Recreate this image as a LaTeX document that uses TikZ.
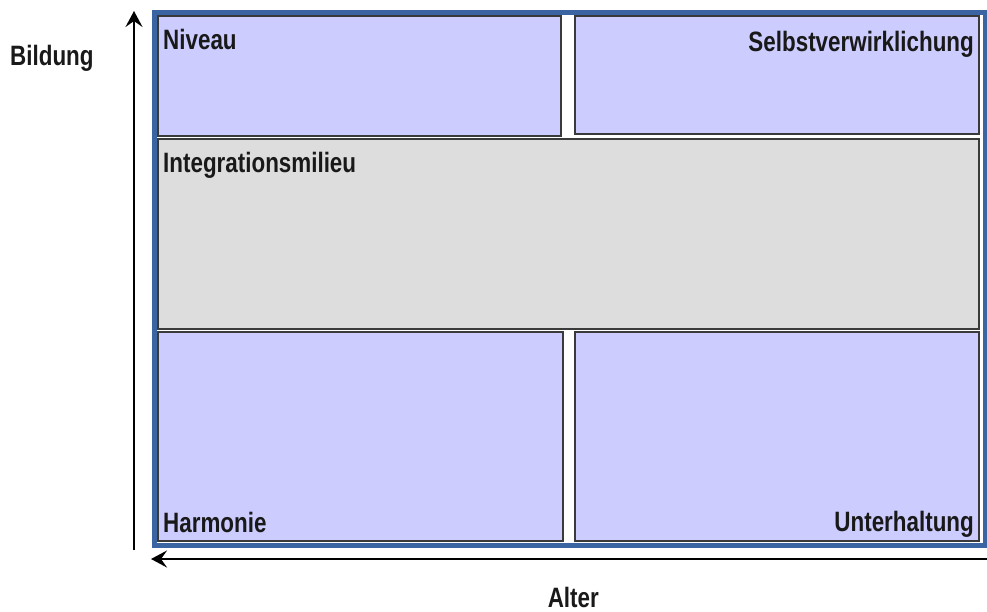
\documentclass[tikz,border=0pt]{standalone}
\usepackage{fontspec}
\setmainfont{Liberation Sans}[FakeStretch=0.80]
\usetikzlibrary{arrows.meta}
\definecolor{framblue}{HTML}{3A65A2}
\definecolor{cellblue}{HTML}{CCCCFF}
\definecolor{cellgrey}{HTML}{DDDDDD}
\definecolor{celledge}{HTML}{3A3A3A}
\begin{document}
\begin{tikzpicture}[x=1pt,y=-1pt,
  cell/.style={draw=celledge,line width=1.5pt},
  lbl/.style={inner sep=0pt,font=\fontsize{28}{30}\selectfont\bfseries,text=black!90},
  axis/.style={line width=2pt,-{Stealth[length=16pt,width=17pt,inset=6pt]}}]
\useasboundingbox[fill=white] (0,0) rectangle (987,611);
% outer frame
\draw[framblue,line width=5pt] (154.5,12.5) rectangle (985.5,545);
% cells
\draw[cell,fill=cellblue] (158,16) rectangle (561,136);
\draw[cell,fill=cellblue] (575,16) rectangle (979,134);
\draw[cell,fill=cellgrey] (158,139) rectangle (979,329);
\draw[cell,fill=cellblue] (158,332) rectangle (563,541);
\draw[cell,fill=cellblue] (575,332) rectangle (979,541);
% labels
\node[lbl,anchor=base west] (niveau) at (163,49) {Niveau};
\node[lbl,anchor=base east] (selbst) at (974,51) {Selbstverwirklichung};
\node[lbl,anchor=base west] (integ) at (163,172) {Integrationsmilieu};
\node[lbl,anchor=base west] (harm) at (163,532) {Harmonie};
\node[lbl,anchor=base east] (unter) at (974,531) {Unterhaltung};
\node[lbl,anchor=base west] (bildung) at (10,65) {Bildung};
\node[lbl,anchor=base east] (alter) at (599,607) {Alter};
% axes
\coordinate (ybot) at (134,550);
\coordinate (ytop) at (134,11);
\coordinate (xright) at (987,559);
\coordinate (xleft) at (151,559);
\draw[axis] (ybot) -- (ytop);
\draw[axis] (xright) -- (xleft);
\end{tikzpicture}
\end{document}
